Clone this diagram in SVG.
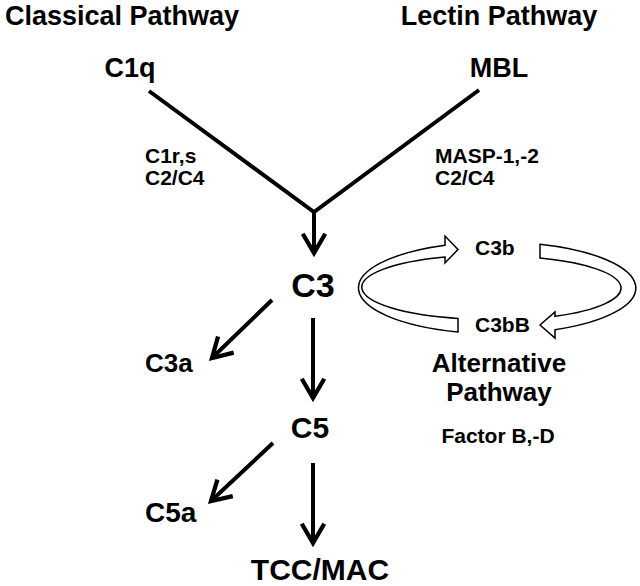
<svg xmlns="http://www.w3.org/2000/svg" width="640" height="586" viewBox="0 0 640 586">
<defs>
<style>
text{font-family:"Liberation Sans",Arial,sans-serif;font-weight:bold;fill:#000}
.m{text-anchor:middle}
.ln{stroke:#000;stroke-width:4;fill:none}
.cyc{fill:#fff;stroke:#000;stroke-width:1.5;stroke-linejoin:miter}
</style>
<marker id="ah" markerUnits="userSpaceOnUse" markerWidth="30" markerHeight="30" viewBox="-22 -14 26 28" refX="0" refY="0" orient="auto">
<path d="M-18,-10.5 L0,0 L-18,10.5" fill="none" stroke="#000" stroke-width="4" stroke-linejoin="miter"/>
</marker>
</defs>
<rect width="640" height="586" fill="#fff"/>
<g id="connectors">
<path class="ln" d="M149,91 L314,212 L479,90"/>
<line class="ln" x1="314" y1="212" x2="314" y2="253" marker-end="url(#ah)"/>
<line class="ln" x1="272" y1="300" x2="212" y2="358" marker-end="url(#ah)"/>
<line class="ln" x1="313" y1="318" x2="313" y2="398" marker-end="url(#ah)"/>
<line class="ln" x1="273" y1="443" x2="211" y2="501" marker-end="url(#ah)"/>
<line class="ln" x1="313" y1="463" x2="313" y2="543" marker-end="url(#ah)"/>
<path class="cyc" d="M458,332 A139 46 0 0 1 445,245.3 L445,236 L458,249.5 L445,263 L445,257 A124 32 0 0 0 458,318.4 Z"/>
<path class="cyc" d="M540,244.3 A139 46 0 0 1 555,329.8 L555,338 L540,325 L555,312 L555,316.3 A124 32 0 0 0 540,258 Z"/>
</g>
<g id="classical"><text class="m" x="122" y="25" font-size="27">Classical Pathway</text></g>
<g id="lectin"><text class="m" x="499" y="25" font-size="27">Lectin Pathway</text></g>
<g id="c1q"><text class="m" x="130" y="77" font-size="27">C1q</text></g>
<g id="mbl"><text class="m" x="499" y="77" font-size="27">MBL</text></g>
<g id="c1rs"><text x="145" y="163" font-size="21">C1r,s</text><text x="145" y="185" font-size="21">C2/C4</text></g>
<g id="masp"><text x="435" y="163" font-size="21">MASP-1,-2</text><text x="435" y="185" font-size="21">C2/C4</text></g>
<g id="c3"><text class="m" x="313" y="297" font-size="34">C3</text></g>
<g id="c3a"><text x="145" y="372" font-size="26">C3a</text></g>
<g id="c5"><text class="m" x="310" y="438" font-size="30">C5</text></g>
<g id="c5a"><text x="145" y="522" font-size="28">C5a</text></g>
<g id="tcc"><text class="m" x="320" y="580" font-size="30">TCC/MAC</text></g>
<g id="c3b"><text x="475" y="255" font-size="21">C3b</text></g>
<g id="c3bb"><text x="475" y="332" font-size="21">C3bB</text></g>
<g id="alt"><text class="m" x="499" y="372" font-size="26">Alternative</text><text class="m" x="499" y="401" font-size="26">Pathway</text></g>
<g id="factor"><text class="m" x="498" y="443" font-size="21">Factor B,-D</text></g>
</svg>
